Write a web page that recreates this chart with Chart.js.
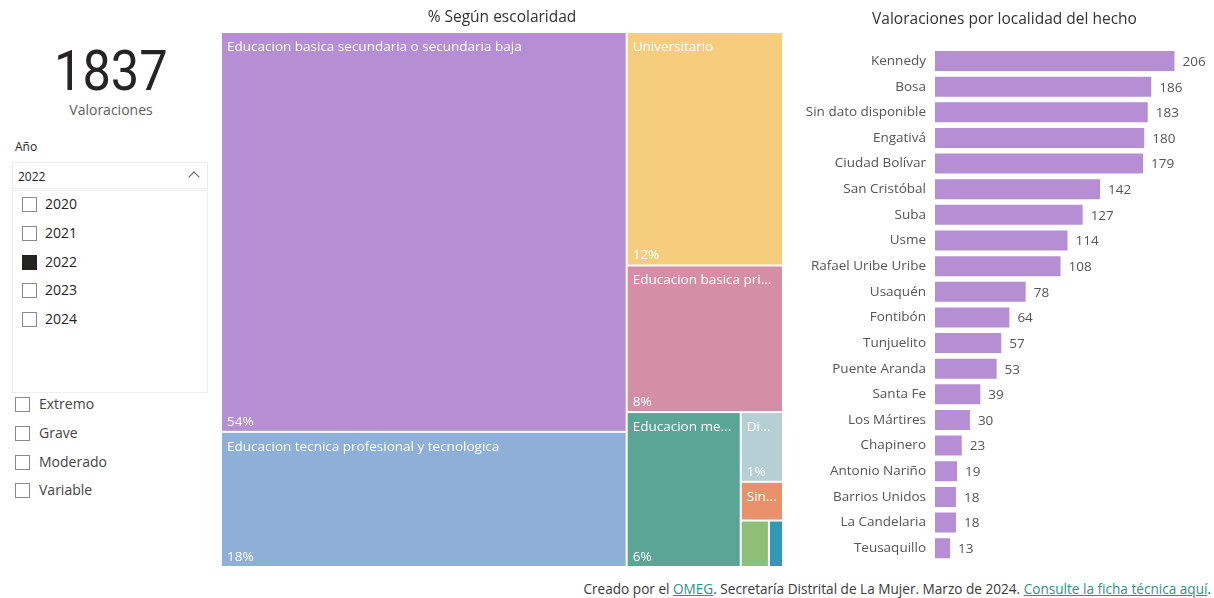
<!DOCTYPE html>
<html lang="es">
<head>
<meta charset="utf-8">
<title>Valoraciones</title>
<script src="https://cdn.jsdelivr.net/npm/chart.js@4.4.1/dist/chart.umd.min.js"></script>
<style>
  body { margin: 0; width: 1214px; height: 598px; position: relative; overflow: hidden; background: #fff;
         font-family: "Open Sans", "Noto Sans", sans-serif; color: #252423; }
  .abs { position: absolute; }
  #kpi { left: 0; top: 44px; width: 222px; text-align: center; font-family: Roboto, sans-serif;
         font-size: 55px; line-height: 55px; color: #252423; }
  #kpi span { display: inline-block; transform: scaleX(0.92); }
  #kpiLabel { left: 0; top: 100px; width: 222px; text-align: center; font-size: 14px; line-height: 20px; color: #605e5c; }
  #anioTitulo { left: 15px; top: 139px; font-size: 12px; line-height: 16px; color: #252423; }
  #dropdown { left: 12px; top: 162px; width: 194px; height: 25px; border: 1px solid #ececec; }
  #dropdown span { position: absolute; left: 5px; top: 6px; font-size: 12px; line-height: 16px; }
  #dropdown i { position: absolute; right: 9px; top: 10px; width: 7px; height: 7px;
                border-left: 1px solid #605e5c; border-top: 1px solid #605e5c; transform: rotate(45deg); }
  #lista { left: 12px; top: 190px; width: 194px; height: 201px; border: 1px solid #efefef; }
  .fila { position: absolute; font-size: 14px; line-height: 18px; color: #252423; }
  .caja { position: absolute; width: 13px; height: 13px; border: 1px solid #8a8a8a; background: #fff; }
  .caja.on { background: #252423; border-color: #252423; }
  canvas { position: absolute; }
  #pie { right: 3px; top: 580px; font-size: 13.6px; line-height: 18px; color: #3a3a3a; white-space: nowrap; }
  #pie a { color: #2f8f88; text-decoration: underline; }
</style>
</head>
<body>
<div id="kpi" class="abs"><span></span></div>
<div id="kpiLabel" class="abs">Valoraciones</div>
<div id="anioTitulo" class="abs">Año</div>
<div id="dropdown" class="abs"><span></span><i></i></div>
<div id="lista" class="abs"></div>
<div id="niveles"></div>
<canvas id="treemapChart" width="562" height="567" style="left:221px; top:0;"></canvas>
<canvas id="barChart" width="419" height="566" style="left:795px; top:0;"></canvas>
<div id="pie" class="abs">Creado por el <a>OMEG</a>. Secretaría Distrital de La Mujer. Marzo de 2024. <a>Consulte la ficha técnica aquí</a>.</div>

<script>
  // total de valoraciones
  const totalValoraciones = 1837;

  // slicers
  const anios = ['2020', '2021', '2022', '2023', '2024'];
  const anioSeleccionado = '2022';
  const niveles = ['Extremo', 'Grave', 'Moderado', 'Variable'];

  // % segun escolaridad (conteos)
  const escolaridad = [
    'Educacion basica secundaria o secundaria baja',
    'Educacion tecnica profesional y tecnologica',
    'Universitario',
    'Educacion basica primaria',
    'Educacion media',
    'Diplomado',
    'Sin dato disponible',
    'Preescolar',
    'Posgrado'
  ];
  const escolaridadValores = [991, 335, 223, 140, 108, 18, 10, 8, 4];

  // valoraciones por localidad del hecho
  const localidades = ['Kennedy', 'Bosa', 'Sin dato disponible', 'Engativá', 'Ciudad Bolívar', 'San Cristóbal',
    'Suba', 'Usme', 'Rafael Uribe Uribe', 'Usaquén', 'Fontibón', 'Tunjuelito', 'Puente Aranda', 'Santa Fe',
    'Los Mártires', 'Chapinero', 'Antonio Nariño', 'Barrios Unidos', 'La Candelaria', 'Teusaquillo'];
  const valoraciones = [206, 186, 183, 180, 179, 142, 127, 114, 108, 78, 64, 57, 53, 39, 30, 23, 19, 18, 18, 13];

  const coloresTreemap = ['#b68ed3', '#8eafd8', '#f5cd7d', '#d48fa6', '#5aa596', '#b5cfd3', '#e8916b', '#8fbe78', '#3398b5'];
  const fuente = '"Open Sans", "Noto Sans", sans-serif';

  // ---- tarjeta y slicers (html) ----
  document.querySelector('#kpi span').textContent = totalValoraciones;
  document.querySelector('#dropdown span').textContent = anioSeleccionado;

  const lista = document.getElementById('lista');
  anios.forEach(function(a, i) {
    const top = 6 + i * 28.8;
    lista.insertAdjacentHTML('beforeend',
      '<div class="caja' + (a === anioSeleccionado ? ' on' : '') + '" style="left:9px; top:' + top + 'px"></div>' +
      '<div class="fila" style="left:32px; top:' + (top - 2) + 'px">' + a + '</div>');
  });

  const nivelesDiv = document.getElementById('niveles');
  niveles.forEach(function(n, i) {
    const top = 397 + i * 28.8;
    nivelesDiv.insertAdjacentHTML('beforeend',
      '<div class="caja" style="left:15px; top:' + top + 'px"></div>' +
      '<div class="fila" style="left:39px; top:' + (top - 2) + 'px; color:#444">' + n + '</div>');
  });

  // ---- treemap (squarified, como d3) ----
  function squarify(values, x0, y0, x1, y1) {
    const ratio = (1 + Math.sqrt(5)) / 2;
    const rects = [];
    let value = values.reduce(function(a, b) { return a + b; }, 0);
    let i0 = 0;
    const n = values.length;
    while (i0 < n) {
      const dx = x1 - x0, dy = y1 - y0;
      let i1 = i0;
      let sum = values[i1++];
      let minV = sum, maxV = sum;
      const alpha = Math.max(dy / dx, dx / dy) / (value * ratio);
      let beta = sum * sum * alpha;
      let minRatio = Math.max(maxV / beta, beta / minV);
      for (; i1 < n; ++i1) {
        const v = values[i1];
        sum += v;
        if (v < minV) minV = v;
        if (v > maxV) maxV = v;
        beta = sum * sum * alpha;
        const newRatio = Math.max(maxV / beta, beta / minV);
        if (newRatio > minRatio) { sum -= v; break; }
        minRatio = newRatio;
      }
      if (dx < dy) {
        const h = dy * sum / value;
        let x = x0;
        for (let i = i0; i < i1; i++) {
          const w = dx * values[i] / sum;
          rects.push({ i: i, x0: x, y0: y0, x1: x + w, y1: y0 + h });
          x += w;
        }
        y0 += h;
      } else {
        const w = dx * sum / value;
        let y = y0;
        for (let i = i0; i < i1; i++) {
          const h = dy * values[i] / sum;
          rects.push({ i: i, x0: x0, y0: y, x1: x0 + w, y1: y + h });
          y += h;
        }
        x0 += w;
      }
      value -= sum;
      i0 = i1;
    }
    return rects;
  }

  function recortar(ctx, texto, ancho) {
    if (ctx.measureText(texto).width <= ancho) return texto;
    let t = texto;
    while (t.length > 1 && ctx.measureText(t + '...').width > ancho) t = t.slice(0, -1);
    return t.trimEnd() + '...';
  }

  const treemapPlugin = {
    id: 'treemap',
    afterDatasetsDraw(chart) {
      const ctx = chart.ctx;
      const area = chart.chartArea;
      const xs = chart.scales.x, ys = chart.scales.y;
      const W = area.right - area.left, H = area.bottom - area.top;
      const total = escolaridadValores.reduce(function(a, b) { return a + b; }, 0);
      const rects = squarify(escolaridadValores, 0, 0, W, H);
      ctx.save();
      rects.forEach(function(r) {
        const px0 = xs.getPixelForValue(r.x0 / W), px1 = xs.getPixelForValue(r.x1 / W);
        const py0 = ys.getPixelForValue(r.y0 / H), py1 = ys.getPixelForValue(r.y1 / H);
        const x = px0 + 1, y = py0 + 1, w = px1 - px0 - 2, h = py1 - py0 - 2;
        ctx.fillStyle = coloresTreemap[r.i];
        ctx.fillRect(x, y, w, h);
        ctx.fillStyle = '#fff';
        ctx.font = '13.5px ' + fuente;
        ctx.textBaseline = 'alphabetic';
        ctx.textAlign = 'left';
        if (w >= 36 && h >= 24) {
          ctx.fillText(recortar(ctx, escolaridad[r.i], w - 10), x + 5, y + 18);
        }
        if (w >= 36 && h >= 55) {
          const pct = Math.round(escolaridadValores[r.i] / total * 100) + '%';
          ctx.fillText(pct, x + 5, y + h - 5);
        }
      });
      ctx.restore();
    }
  };

  new Chart('treemapChart', {
    type: 'scatter',
    data: { datasets: [{ data: [] }] },
    options: {
      responsive: false,
      animation: false,
      events: [],
      scales: {
        x: { type: 'linear', min: 0, max: 1, display: false },
        y: { type: 'linear', min: 0, max: 1, reverse: true, display: false }
      },
      plugins: {
        legend: { display: false },
        tooltip: { enabled: false },
        title: {
          display: true,
          text: '% Según escolaridad',
          color: '#333',
          font: { family: fuente, size: 15.5, weight: '500' },
          padding: { top: 8, bottom: 5.4 }
        }
      }
    },
    plugins: [treemapPlugin]
  });

  // ---- barras por localidad ----
  const etiquetasValor = {
    id: 'etiquetasValor',
    afterDatasetsDraw(chart) {
      const ctx = chart.ctx;
      const meta = chart.getDatasetMeta(0);
      ctx.save();
      ctx.font = '13.5px ' + fuente;
      ctx.fillStyle = '#555';
      ctx.textAlign = 'left';
      ctx.textBaseline = 'middle';
      meta.data.forEach(function(bar, i) {
        ctx.fillText(valoraciones[i], bar.x + 8, bar.y + 1);
      });
      ctx.restore();
    }
  };

  new Chart('barChart', {
    type: 'bar',
    data: {
      labels: localidades,
      datasets: [{
        data: valoraciones,
        backgroundColor: '#b68ed3',
        barPercentage: 0.78,
        categoryPercentage: 1
      }]
    },
    options: {
      indexAxis: 'y',
      responsive: false,
      animation: false,
      events: [],
      layout: { padding: { bottom: 5 } },
      scales: {
        x: { display: false, min: 0, max: 240 },
        y: {
          grid: { display: false, drawTicks: false },
          border: { display: false },
          ticks: { padding: 9, color: '#555', font: { family: fuente, size: 13.5 } },
          afterFit: function(scale) {
            scale.width = 140;
            scale.paddingTop = 0;
            scale.paddingBottom = 0;
          }
        }
      },
      plugins: {
        legend: { display: false },
        tooltip: { enabled: false },
        title: {
          display: true,
          text: 'Valoraciones por localidad del hecho',
          color: '#333',
          font: { family: fuente, size: 15.5, weight: '500' },
          padding: { top: 9.9, bottom: 19.7 }
        }
      }
    },
    plugins: [etiquetasValor]
  });
</script>
</body>
</html>
